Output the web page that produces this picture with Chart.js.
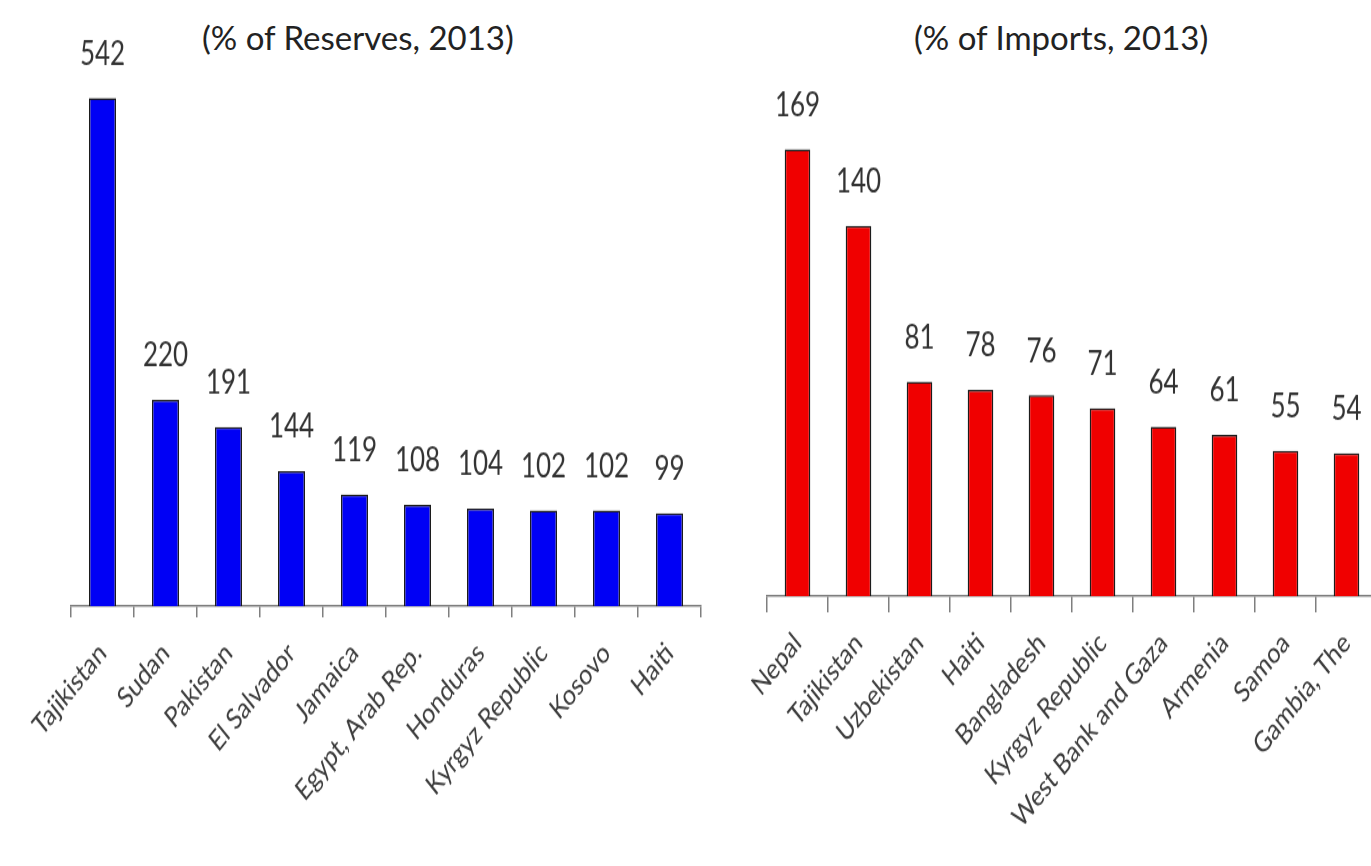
<!DOCTYPE html>
<html>
<head>
<meta charset="utf-8">
<script src="https://cdn.jsdelivr.net/npm/chart.js@4"></script>
<style>
    body { margin: 0; background: #fff; width: 1371px; height: 866px; overflow: hidden; position: relative; }
    canvas { position: absolute; top: 0; }
    #leftChart { left: 0; }
    #rightChart { left: 700px; }
    .title { position: absolute; top: 17px; font-family: Lato, sans-serif; font-size: 33px; color: #222; white-space: nowrap; }
</style>
</head>
<body>
<div class="title" style="left: 202px;">(% of Reserves, 2013)</div>
<div class="title" style="left: 914px;">(% of Imports, 2013)</div>
<!-- the source picture is stretched vertically, so the canvases are too -->
<canvas id="leftChart" width="720" height="693" style="width: 720px; height: 866px;"></canvas>
<canvas id="rightChart" width="690" height="693" style="width: 690px; height: 866px;"></canvas>
<script>
// remittances, % of reserves (2013)
const reserveCountries = ['Tajikistan', 'Sudan', 'Pakistan', 'El Salvador', 'Jamaica', 'Egypt, Arab Rep.', 'Honduras', 'Kyrgyz Republic', 'Kosovo', 'Haiti'];
const reserveValues = [542, 220, 191, 144, 119, 108, 104, 102, 102, 99];

// remittances, % of imports (2013)
const importCountries = ['Nepal', 'Tajikistan', 'Uzbekistan', 'Haiti', 'Bangladesh', 'Kyrgyz Republic', 'West Bank and Gaza', 'Armenia', 'Samoa', 'Gambia, The'];
const importValues = [169, 140, 81, 78, 76, 71, 64, 61, 55, 54];

const labelFont = 'Lato, sans-serif';

// value above each bar
const valueLabels = {
    id: 'valueLabels',
    afterDatasetsDraw(chart) {
        const ctx = chart.ctx;
        const meta = chart.getDatasetMeta(0);
        ctx.save();
        ctx.font = '26px ' + labelFont;
        ctx.fillStyle = '#333333';
        ctx.textAlign = 'center';
        ctx.textBaseline = 'middle';
        meta.data.forEach((bar, i) => {
            ctx.fillText(chart.data.datasets[0].data[i], bar.x, bar.y - 35);
        });
        ctx.restore();
    }
};

function makeChart(canvasId, labels, values, color, yMax, pad, axisHeight, tickLen, barPct) {
    return new Chart(document.getElementById(canvasId), {
        type: 'bar',
        data: {
            labels: labels,
            datasets: [{
                data: values,
                backgroundColor: color,
                borderColor: '#1c1c1c',
                borderWidth: 1.5,
                borderSkipped: 'bottom',
                barPercentage: barPct,
                categoryPercentage: 1
            }]
        },
        options: {
            responsive: false,
            animation: false,
            layout: { padding: pad },
            plugins: {
                legend: { display: false },
                tooltip: { enabled: false }
            },
            scales: {
                x: {
                    afterFit: scale => { scale.height = axisHeight; },
                    grid: {
                        display: true,
                        offset: true,
                        drawOnChartArea: false,
                        drawTicks: true,
                        tickLength: tickLen,
                        color: '#7f7f7f',
                        lineWidth: 1.5
                    },
                    border: { display: true, color: '#7f7f7f', width: 1.6 },
                    ticks: {
                        autoSkip: false,
                        maxRotation: 45,
                        minRotation: 45,
                        padding: 24 - tickLen,
                        color: '#3c3c3c',
                        font: { family: labelFont, size: 23 }
                    }
                },
                y: {
                    display: false,
                    min: 0,
                    max: yMax
                }
            }
        },
        plugins: [valueLabels]
    });
}

makeChart('leftChart', reserveCountries, reserveValues, '#0000f5', 620,
    { top: 20, left: 71, right: 19, bottom: 0 }, 208, 9, 0.43);
makeChart('rightChart', importCountries, importValues, '#f00000', 190,
    { top: 75, left: 67, right: 13, bottom: 0 }, 216, 13, 0.42);
</script>
</body>
</html>
